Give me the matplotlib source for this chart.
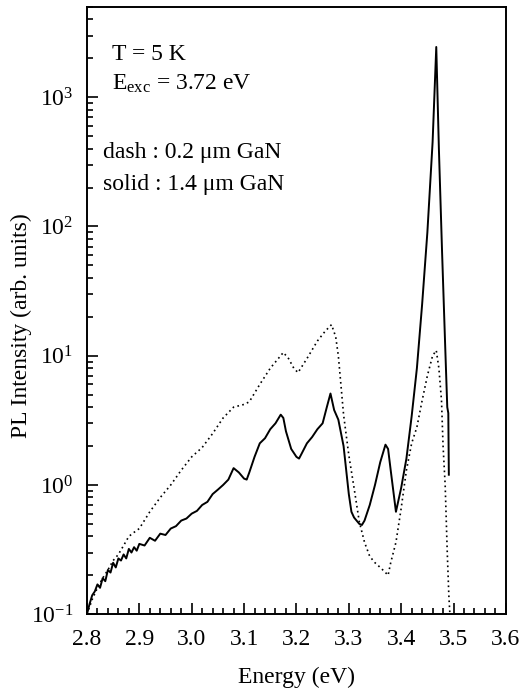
import matplotlib
matplotlib.use('Agg')
import matplotlib.pyplot as plt
from matplotlib.ticker import MultipleLocator, LogLocator, NullFormatter

plt.rcParams['font.family'] = ['Liberation Serif', 'DejaVu Serif']
plt.rcParams['mathtext.fontset'] = 'custom'
plt.rcParams['mathtext.rm'] = 'Liberation Serif'
plt.rcParams['mathtext.it'] = 'Liberation Serif:italic'

# solid : 1.4 um GaN
solid_e = [2.800, 2.805, 2.810, 2.815, 2.820, 2.825, 2.830, 2.835, 2.840, 2.845,
           2.850, 2.855, 2.860, 2.865, 2.870, 2.875, 2.880, 2.885, 2.890, 2.895,
           2.900, 2.910, 2.920, 2.930, 2.940, 2.950, 2.960, 2.970, 2.980, 2.990,
           3.000, 3.010, 3.020, 3.030, 3.040, 3.050, 3.060, 3.070, 3.080, 3.090,
           3.100, 3.105, 3.110, 3.120, 3.130, 3.140, 3.150, 3.160, 3.170, 3.175,
           3.180, 3.190, 3.200, 3.205, 3.210, 3.220, 3.230, 3.240, 3.250, 3.258,
           3.265, 3.272, 3.280, 3.290, 3.300, 3.305, 3.310, 3.320, 3.325, 3.330,
           3.340, 3.350, 3.360, 3.370, 3.375, 3.380, 3.390, 3.400, 3.410, 3.420,
           3.430, 3.440, 3.450, 3.460, 3.467, 3.472, 3.478, 3.484, 3.488, 3.490,
           3.491]
solid_i = [0.10, 0.12, 0.14, 0.15, 0.17, 0.16, 0.19, 0.18, 0.22, 0.21,
           0.25, 0.23, 0.27, 0.26, 0.29, 0.27, 0.32, 0.30, 0.33, 0.31,
           0.35, 0.34, 0.39, 0.37, 0.42, 0.41, 0.46, 0.48, 0.53, 0.55,
           0.60, 0.63, 0.70, 0.74, 0.85, 0.92, 1.00, 1.10, 1.35, 1.25,
           1.12, 1.10, 1.25, 1.65, 2.10, 2.30, 2.70, 3.00, 3.50, 3.30,
           2.60, 1.90, 1.65, 1.60, 1.75, 2.10, 2.35, 2.70, 3.00, 4.00,
           5.10, 3.80, 3.20, 2.00, 0.85, 0.62, 0.56, 0.50, 0.49, 0.53,
           0.70, 1.00, 1.50, 2.05, 1.90, 1.30, 0.62, 0.95, 1.60, 3.40,
           8.0, 25.0, 90.0, 450.0, 2450.0, 400.0, 65.0, 12.0, 4.0, 3.6,
           1.2]

# dash : 0.2 um GaN
dash_e = [2.80, 2.81, 2.82, 2.83, 2.84, 2.85, 2.86, 2.87, 2.88, 2.89,
          2.90, 2.92, 2.94, 2.96, 2.98, 3.00, 3.02, 3.04, 3.06, 3.08,
          3.10, 3.11, 3.13, 3.15, 3.175, 3.185, 3.195, 3.203, 3.22, 3.24,
          3.255, 3.267, 3.275, 3.28, 3.29, 3.30, 3.31, 3.32, 3.33, 3.34,
          3.35, 3.36, 3.37, 3.375, 3.38, 3.39, 3.40, 3.41, 3.42, 3.43,
          3.44, 3.45, 3.46, 3.467, 3.472, 3.477, 3.480, 3.484, 3.488, 3.491,
          3.493]
dash_i = [0.10, 0.13, 0.16, 0.19, 0.22, 0.26, 0.29, 0.34, 0.40, 0.43,
          0.46, 0.62, 0.80, 1.00, 1.30, 1.65, 1.95, 2.50, 3.30, 4.00,
          4.20, 4.40, 6.0, 8.0, 10.6, 9.5, 8.0, 7.4, 9.5, 13.0,
          15.5, 17.4, 14.0, 10.0, 3.5, 1.7, 0.95, 0.52, 0.36, 0.28,
          0.25, 0.23, 0.21, 0.20, 0.25, 0.36, 0.66, 1.3, 2.1, 2.8,
          4.5, 7.0, 10.0, 11.0, 8.0, 4.5, 2.0, 1.0, 0.30, 0.14,
          0.10]

fig = plt.figure(figsize=(5.27, 6.94), dpi=100)
ax = fig.add_axes([0.165, 0.115, 0.795, 0.875])

ax.plot(dash_e, dash_i, color='black', lw=1.2, linestyle=(0, (1, 2)))
ax.plot(solid_e, solid_i, color='black', lw=1.4)

ax.set_yscale('log')
ax.set_xlim(2.8, 3.6)
ax.set_ylim(0.1, 5000)

ax.xaxis.set_major_locator(MultipleLocator(0.1))
ax.xaxis.set_minor_locator(MultipleLocator(0.02))
ax.xaxis.set_major_formatter(plt.FuncFormatter(lambda v, p: f'{v:.1f}'))
ax.yaxis.set_major_locator(LogLocator(base=10, numticks=10))
ax.yaxis.set_minor_locator(LogLocator(base=10, subs=range(2, 10), numticks=20))
ax.yaxis.set_minor_formatter(NullFormatter())

ax.tick_params(which='both', direction='in', top=False, right=False,
               labelsize=17, width=1.2)
ax.tick_params(which='major', length=8)
ax.tick_params(which='minor', length=4)
ax.tick_params(axis='x', which='major', pad=11)
ax.tick_params(axis='y', which='major', pad=10)
for s in ax.spines.values():
    s.set_linewidth(1.4)

ax.set_xlabel('Energy (eV)', fontsize=17)
ax.set_ylabel('PL Intensity (arb. units)', fontsize=17)
ax.xaxis.set_label_coords(0.5, -0.087)
ax.yaxis.set_label_coords(-0.13, 0.476)

ax.text(0.06, 0.913, 'T = 5 K', transform=ax.transAxes, fontsize=17, va='baseline')
ax.text(0.06, 0.863, r'E$_{\mathregular{exc}}$ = 3.72 eV', transform=ax.transAxes,
        fontsize=17, va='baseline')
ax.text(0.038, 0.751, 'dash : 0.2 \u03bcm GaN', transform=ax.transAxes,
        fontsize=17, va='baseline')
ax.text(0.038, 0.698, 'solid : 1.4 \u03bcm GaN', transform=ax.transAxes,
        fontsize=17, va='baseline')

fig.savefig('out.png', dpi=100)
